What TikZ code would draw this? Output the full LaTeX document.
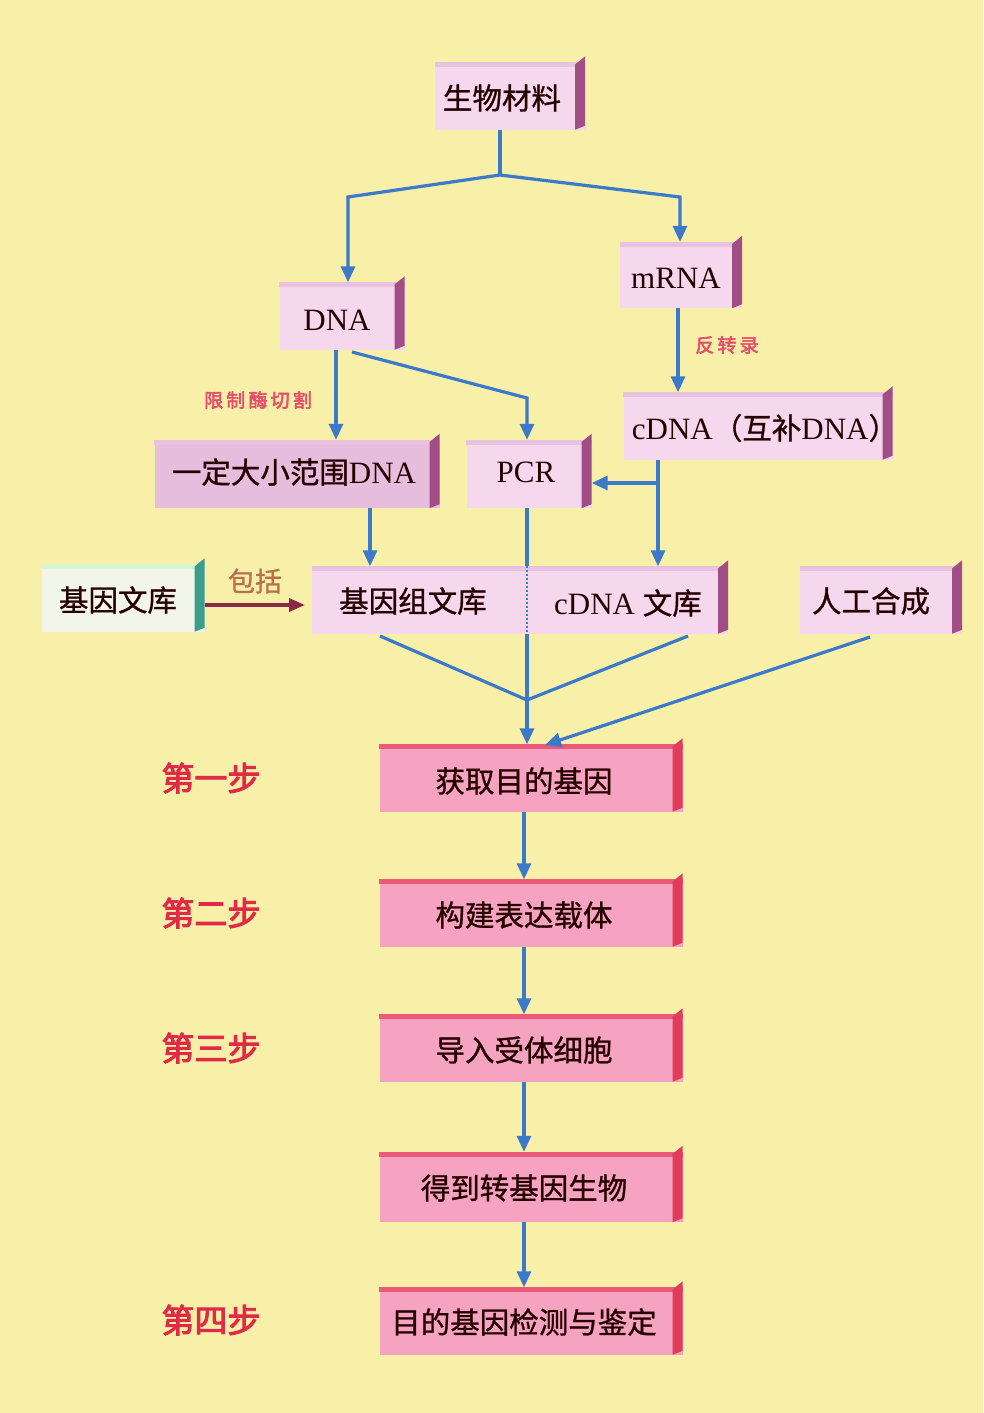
\documentclass[tikz,border=0pt]{standalone}
\usepackage{fontspec}
\setmainfont{Liberation Serif}
\newfontfamily\cjk[FakeBold=1]{Noto Sans CJK SC}
\newfontfamily\cjkb[FakeBold=3]{Noto Sans CJK SC}
\usetikzlibrary{arrows.meta,calc}
\definecolor{bg}{HTML}{F8EFA8}
\definecolor{pinkA}{HTML}{F5D7EE}
\definecolor{pinkTop}{HTML}{E9C2E0}
\definecolor{fragFill}{HTML}{E7BDDD}
\definecolor{sideP}{HTML}{A24E86}
\definecolor{libFill}{HTML}{F1F5EA}
\definecolor{sideT}{HTML}{3D9C8C}
\definecolor{stepFill}{HTML}{F5A3C0}
\definecolor{stepTop}{HTML}{EC5A7A}
\definecolor{sideR}{HTML}{E23C5C}
\definecolor{arrBlue}{HTML}{3B79C9}
\definecolor{arrRed}{HTML}{8A2848}
\definecolor{lblRed}{HTML}{E4506C}
\definecolor{stepRed}{HTML}{E02A48}
\definecolor{inclCol}{HTML}{B8704C}
\newcommand\threed[3]{%
  \fill[#3] (#1.north west) rectangle ([yshift=-5pt]#1.north east);
  \fill[#2] ([xshift=-10pt,yshift=-2pt]#1.north east) -- ([yshift=6pt]#1.north east)
     -- ([yshift=4pt]#1.south east) -- ([xshift=-10pt]#1.south east) -- cycle;}
\newcommand\zh[1]{{\cjk\fontsize{29.5pt}{32pt}\selectfont #1}}
\tikzset{
  box/.style={fill=pinkA, inner sep=0pt, minimum height=67pt, text=black},
  stepbox/.style={fill=stepFill, inner sep=0pt, minimum width=303pt, minimum height=67pt, text=black},
  txt/.style={inner sep=0pt, text=black!85!red, font=\fontsize{31pt}{33pt}\selectfont},
  arr/.style={draw=arrBlue, line width=3.2pt, -{Triangle[length=16pt,width=14pt]}},
  ln/.style={draw=arrBlue, line width=3.2pt},
  small/.style={inner sep=0pt, text=lblRed, font=\cjkb\fontsize{19pt}{22pt}\selectfont},
  steplbl/.style={inner sep=0pt, text=stepRed, font=\cjkb\fontsize{33pt}{36pt}\selectfont},
}
\begin{document}
\begin{tikzpicture}[x=1pt,y=-1pt]
\fill[bg] (0,0) rectangle (983,1413);
\useasboundingbox (0,0) rectangle (983,1413);

% boxes
\node[box, minimum width=150pt] (bio) at (510,96) {};
\threed{bio}{sideP}{pinkTop}
\node[txt] at (502,98) {\zh{生物材料}};

\node[box, minimum width=125pt] (dna) at (342,316) {};
\threed{dna}{sideP}{pinkTop}
\node[txt] at (337,320) {DNA};

\node[box, minimum width=122pt, minimum height=66pt] (mrna) at (681,275) {};
\threed{mrna}{sideP}{pinkTop}
\node[txt] at (676,278) {mRNA};

\node[box, minimum width=269pt] (cdna) at (758,426) {};
\threed{cdna}{sideP}{pinkTop}
\node[txt] at (765,428) {cDNA\zh{（互补}DNA\zh{）}};

\node[box, fill=fragFill, minimum width=285pt, minimum height=68pt] (frag) at (297,474) {};
\threed{frag}{sideP}{pinkTop}
\node[txt] at (294,472) {\zh{一定大小范围}DNA};

\node[box, minimum width=125pt, minimum height=68pt] (pcr) at (529,474) {};
\threed{pcr}{sideP}{pinkTop}
\node[txt] at (526,472) {PCR};

\node[box, fill=libFill, minimum width=163pt] (lib) at (123,598) {};
\threed{lib}{sideT}{libFill!90!green}
\node[txt] at (118,600) {\zh{基因文库}};

\node[box, minimum width=416pt] (libbox) at (520,600) {};
\threed{libbox}{sideP}{pinkTop}
\node[txt] (glib) at (413,601) {\zh{基因组文库}};
\node[txt] (clib) at (628,603) {cDNA \zh{文库}};

\node[box, minimum width=162pt] (ai) at (881,600) {};
\threed{ai}{sideP}{pinkTop}
\node[txt] at (871,601) {\zh{人工合成}};

\node[stepbox] (s1) at (531,778) {};
\threed{s1}{sideR}{stepTop}
\node[txt] at (524,781) {\zh{获取目的基因}};

\node[stepbox] (s2) at (531,913) {};
\threed{s2}{sideR}{stepTop}
\node[txt] at (524,915) {\zh{构建表达载体}};

\node[stepbox] (s3) at (531,1048) {};
\threed{s3}{sideR}{stepTop}
\node[txt] at (524,1050) {\zh{导入受体细胞}};

\node[stepbox, minimum height=70pt] (s4) at (531,1187) {};
\threed{s4}{sideR}{stepTop}
\node[txt] at (524,1188) {\zh{得到转基因生物}};

\node[stepbox] (s5) at (531,1321) {};
\threed{s5}{sideR}{stepTop}
\node[txt] at (524,1322) {\zh{目的基因检测与鉴定}};

% step labels
\node[steplbl] at (211,778) {第一步};
\node[steplbl] at (211,913) {第二步};
\node[steplbl] at (211,1048) {第三步};
\node[steplbl] at (211,1320) {第四步};

% small labels
\node[small] at (258,400) {限\,制\,酶\,切\,割};
\node[small] at (727,345) {反\,转\,录};
\node[inner sep=0pt, text=inclCol, font=\cjk\fontsize{27pt}{29pt}\selectfont] at (255,581) {包括};

% connectors
\coordinate (split) at (500,175);
\coordinate (lA) at (348,197);
\coordinate (rA) at (680,197);
\draw[ln] (split |- bio.south) -- (split);
\draw[arr] (split) -- (lA) -- (lA |- dna.north);
\draw[arr] (split) -- (rA) -- (rA |- mrna.north);

\coordinate (dx) at (336,0);
\draw[arr] (dx |- dna.south) -- (dx |- frag.north);
\coordinate (pA) at (527,398);
\coordinate (dB) at (352,352);
\draw[arr] (dB) -- (pA) -- (pA |- pcr.north);

\coordinate (mx) at (678,0);
\draw[arr] (mx |- mrna.south) -- (mx |- cdna.north);

\coordinate (cx) at (658,0);
\coordinate (cb) at (658,483);
\draw[arr] (cx |- cdna.south) -- (cx |- libbox.north);
\draw[arr] (cb) -- (cb -| pcr.east);

\coordinate (fx) at (370,0);
\draw[arr] (fx |- frag.south) -- (fx |- libbox.north);

\coordinate (px) at (527,0);
\draw[ln] (px |- pcr.south) -- (px |- libbox.north);
\draw[draw=arrBlue, line width=2pt, dash pattern=on 2pt off 2pt] (px |- libbox.north) -- (px |- libbox.south);
\draw[arr] (px |- libbox.south) -- (px |- s1.north);

\coordinate (merge) at (527,700);
\coordinate (gA) at (380,636);
\coordinate (cA) at (688,636);
\coordinate (aA) at (870,637);
\coordinate (aB) at (545,745);
\draw[ln] (gA) -- (merge) -- (cA);
\draw[arr] (aA) -- (aB);

\coordinate (sx) at (524,0);
\draw[arr] (sx |- s1.south) -- (sx |- s2.north);
\draw[arr] (sx |- s2.south) -- (sx |- s3.north);
\draw[arr] (sx |- s3.south) -- (sx |- s4.north);
\draw[arr] (sx |- s4.south) -- (sx |- s5.north);

\draw[draw=arrRed, line width=3.5pt, -{Triangle[length=16pt,width=13pt]}] ([yshift=-7pt]lib.east) -- ([yshift=-7pt]lib.east -| 305,0);
\end{tikzpicture}
\end{document}
